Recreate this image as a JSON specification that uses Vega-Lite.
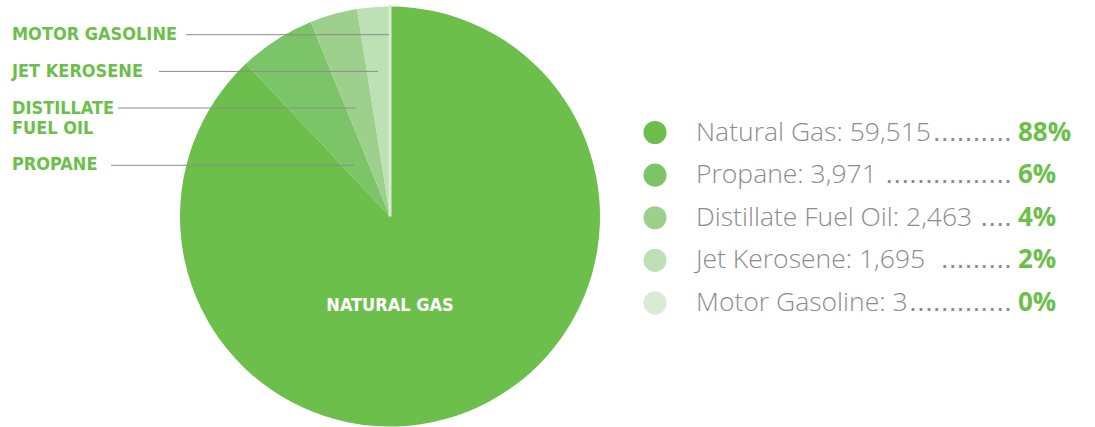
{
  "$schema": "https://vega.github.io/schema/vega-lite/v6.json",
  "width": 780,
  "height": 427,
  "padding": 0,
  "background": "white",
  "config": {"view": {"stroke": null}},
  "datasets": {
    "fuels": [
      {"fuel": "Natural Gas", "value": 59515, "order": 1, "legend": "Natural Gas: 59,515", "dots": "..........", "pct": "88%"},
      {"fuel": "Propane", "value": 3971, "order": 2, "legend": "Propane: 3,971 ", "dots": "................", "pct": "6%"},
      {"fuel": "Distillate Fuel Oil", "value": 2463, "order": 3, "legend": "Distillate Fuel Oil: 2,463 ", "dots": "....", "pct": "4%"},
      {"fuel": "Jet Kerosene", "value": 1695, "order": 4, "legend": "Jet Kerosene: 1,695 ", "dots": ".........", "pct": "2%"},
      {"fuel": "Motor Gasoline", "value": 3, "order": 5, "legend": "Motor Gasoline: 3", "dots": ".............", "pct": "0%"}
    ],
    "labels": [
      {"fuel": "Motor Gasoline", "label": "MOTOR GASOLINE"},
      {"fuel": "Jet Kerosene", "label": "JET KEROSENE"},
      {"fuel": "Distillate Fuel Oil", "label": "DISTILLATE FUEL OIL"},
      {"fuel": "Propane", "label": "PROPANE"}
    ]
  },
  "layer": [
    {
      "data": {"name": "fuels"},
      "mark": {"type": "arc", "outerRadius": 210, "stroke": "#d8ecd2"},
      "encoding": {
        "theta": {"field": "value", "type": "quantitative", "stack": true},
        "order": {"field": "order", "type": "quantitative", "sort": "ascending"},
        "color": {
          "field": "fuel", "type": "nominal", "legend": null,
          "scale": {
            "domain": ["Natural Gas", "Propane", "Distillate Fuel Oil", "Jet Kerosene", "Motor Gasoline"],
            "range": ["#6cbf4b", "#7bc467", "#9cd08c", "#bde0b4", "#d8ecd2"]
          }
        },
        "strokeWidth": {"condition": {"test": "datum.fuel === 'Motor Gasoline'", "value": 3}, "value": 0}
      }
    },
    {
      "data": {"name": "labels"},
      "encoding": {
        "x": {"datum": 0, "type": "quantitative", "scale": {"domain": [0, 780], "nice": false, "zero": false}, "axis": null},
        "y": {"datum": 0, "type": "quantitative", "scale": {"domain": [0, 427], "nice": false, "zero": false, "reverse": true}, "axis": null}
      },
      "layer": [
        {
          "transform": [{"filter": "datum.fuel === 'Motor Gasoline'"}],
          "mark": {"type": "rule", "stroke": "#8c8c8c", "strokeWidth": 1},
          "encoding": {"x": {"datum": 186}, "x2": {"datum": 389}, "y": {"datum": 31.7}}
        },
        {
          "transform": [{"filter": "datum.fuel === 'Jet Kerosene'"}],
          "mark": {"type": "rule", "stroke": "#8c8c8c", "strokeWidth": 1},
          "encoding": {"x": {"datum": 159}, "x2": {"datum": 378}, "y": {"datum": 68.4}}
        },
        {
          "transform": [{"filter": "datum.fuel === 'Distillate Fuel Oil'"}],
          "mark": {"type": "rule", "stroke": "#8c8c8c", "strokeWidth": 1},
          "encoding": {"x": {"datum": 118}, "x2": {"datum": 356}, "y": {"datum": 105}}
        },
        {
          "transform": [{"filter": "datum.fuel === 'Propane'"}],
          "mark": {"type": "rule", "stroke": "#8c8c8c", "strokeWidth": 1},
          "encoding": {"x": {"datum": 111}, "x2": {"datum": 354}, "y": {"datum": 162.3}}
        },
        {
          "transform": [{"filter": "datum.fuel === 'Motor Gasoline'"}],
          "mark": {"type": "text", "align": "left", "baseline": "middle", "font": "DejaVu Sans Condensed", "fontWeight": "bold", "fontSize": 18, "fill": "#6cbf4b"},
          "encoding": {"x": {"datum": 12}, "y": {"datum": 31.5}, "text": {"field": "label"}}
        },
        {
          "transform": [{"filter": "datum.fuel === 'Jet Kerosene'"}],
          "mark": {"type": "text", "align": "left", "baseline": "middle", "font": "DejaVu Sans Condensed", "fontWeight": "bold", "fontSize": 18, "fill": "#6cbf4b"},
          "encoding": {"x": {"datum": 12}, "y": {"datum": 68.5}, "text": {"field": "label"}}
        },
        {
          "transform": [{"filter": "datum.fuel === 'Distillate Fuel Oil'"}],
          "mark": {"type": "text", "align": "left", "baseline": "middle", "font": "DejaVu Sans Condensed", "fontWeight": "bold", "fontSize": 18, "fill": "#6cbf4b", "lineHeight": 20.5},
          "encoding": {"x": {"datum": 12}, "y": {"datum": 105.5}, "text": {"value": ["DISTILLATE", "FUEL OIL"]}}
        },
        {
          "transform": [{"filter": "datum.fuel === 'Propane'"}],
          "mark": {"type": "text", "align": "left", "baseline": "middle", "font": "DejaVu Sans Condensed", "fontWeight": "bold", "fontSize": 18, "fill": "#6cbf4b"},
          "encoding": {"x": {"datum": 12}, "y": {"datum": 162}, "text": {"field": "label"}}
        },
        {
          "transform": [{"filter": "datum.fuel === 'Propane'"}],
          "mark": {"type": "text", "align": "center", "baseline": "middle", "font": "DejaVu Sans Condensed", "fontWeight": "bold", "fontSize": 18, "fill": "white"},
          "encoding": {"x": {"datum": 390}, "y": {"datum": 302.5}, "text": {"value": "NATURAL GAS"}}
        }
      ]
    },
    {
      "data": {"name": "fuels"},
      "encoding": {
        "y": {
          "field": "fuel", "type": "nominal", "axis": null,
          "scale": {"type": "point", "domain": ["Natural Gas", "Propane", "Distillate Fuel Oil", "Jet Kerosene", "Motor Gasoline"], "range": [129.5, 300], "padding": 0}
        },
        "x": {"datum": 0, "type": "quantitative", "scale": {"domain": [0, 780], "nice": false, "zero": false}, "axis": null}
      },
      "layer": [
        {
          "mark": {"type": "point", "filled": true, "opacity": 1, "size": 530},
          "encoding": {
            "x": {"datum": 655},
            "color": {"field": "fuel", "type": "nominal", "legend": null}
          }
        },
        {
          "mark": {"type": "text", "align": "left", "baseline": "middle", "font": "Open Sans", "fontWeight": 300, "fontSize": 26.5, "fill": "#8c8c8c"},
          "encoding": {
            "x": {"datum": 696},
            "text": {"field": "legend"}
          }
        },
        {
          "mark": {"type": "text", "align": "right", "baseline": "middle", "font": "Liberation Sans", "fontSize": 28.5, "fill": "#8c8c8c", "dy": -1},
          "encoding": {
            "x": {"datum": 1012},
            "text": {"field": "dots"}
          }
        },
        {
          "mark": {"type": "text", "align": "left", "baseline": "middle", "font": "Open Sans", "fontWeight": "bold", "fontSize": 26, "fill": "#6cbf4b"},
          "encoding": {
            "x": {"datum": 1018},
            "text": {"field": "pct"}
          }
        }
      ]
    }
  ],
  "resolve": {"scale": {"x": "independent", "y": "independent"}}
}
